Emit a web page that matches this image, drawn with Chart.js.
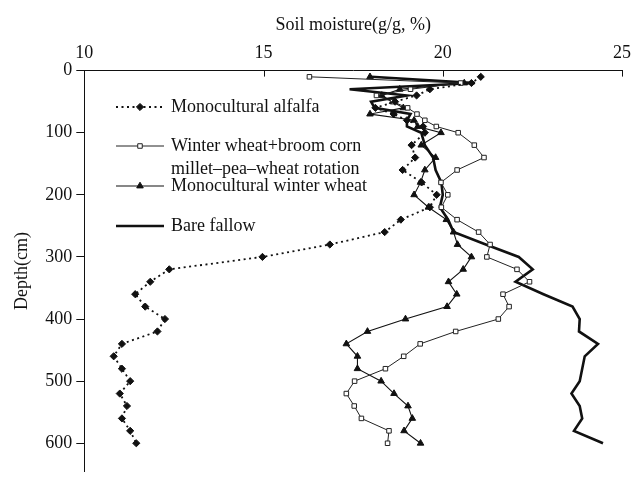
<!DOCTYPE html>
<html>
<head>
<meta charset="utf-8">
<script src="https://cdn.jsdelivr.net/npm/chart.js@4.4.0/dist/chart.umd.min.js"></script>
<style>
  html, body { margin: 0; padding: 0; background: #fff; }
  #wrap { width: 638px; height: 486px; }
</style>
</head>
<body>
<div id="wrap"><canvas id="soilChart" width="638" height="486"></canvas></div>
<script>
"use strict";

// sampling depth (cm)
var depths = [10, 20, 30, 40, 50, 60, 70, 80, 90, 100,
              120, 140, 160, 180, 200, 220, 240, 260, 280, 300,
              320, 340, 360, 380, 400, 420, 440, 460, 480, 500,
              520, 540, 560, 580, 600];

// soil moisture (g/g, %)
var alfalfa = [21.06, 20.8, 19.64, 19.27, 18.67, 18.12, 18.63, 19.0, 19.45, 19.5,
               19.13, 19.23, 18.88, 19.41, 19.83, 19.64, 18.83, 18.38, 16.85, 14.97,
               12.37, 11.84, 11.42, 11.70, 12.25, 12.04, 11.05, 10.82, 11.05, 11.28,
               10.99, 11.19, 11.05, 11.28, 11.45];
var rotation = [16.28, 20.5, 19.1, 18.15, 18.6, 19.02, 19.28, 19.5, 19.82, 20.43,
                20.88, 21.15, 20.40, 19.95, 20.14, 19.96, 20.40, 21.0, 21.32, 21.23,
                22.07, 22.42, 21.68, 21.85, 21.55, 20.36, 19.37, 18.91, 18.40, 17.54,
                17.31, 17.53, 17.73, 18.50, 18.46];
var winterWheat = [17.97, 20.6, 18.8, 18.3, 18.6, 18.9, 17.97, 19.2, 19.3, 19.95,
                   19.4, 19.8, 19.5, 19.38, 19.2, 19.6, 20.1, 20.3, 20.41, 20.80,
                   20.57, 20.16, 20.39, 20.12, 18.96, 17.90, 17.31, 17.62, 17.62, 18.28,
                   18.64, 19.03, 19.15, 18.92, 19.38];
var bareFallow = [18.0, 20.9, 17.4, 19.0, 18.0, 18.1, 19.1, 19.0, 19.0, 19.4,
                  19.5, 19.73, 19.8, 19.96, 20.0, 19.92, 20.15, 20.3, 21.2, 22.12,
                  22.51, 22.03, 22.81, 23.62, 23.82, 23.80, 24.33, 23.96, 23.89, 23.82,
                  23.59, 23.82, 23.89, 23.66, 24.47];

var seriesLabels = [
    ["Monocultural alfalfa"],
    ["Winter wheat+broom corn", "millet\u2013pea\u2013wheat rotation"],
    ["Monocultural winter wheat"],
    ["Bare fallow"]
];
var moistureTicks = [10, 15, 20, 25];
var depthTicks = [0, 100, 200, 300, 400, 500, 600];

function toPoints(values) {
    return values.map(function (v, i) { return { x: v, y: depths[i] }; });
}

var serif = '"Liberation Serif", "Times New Roman", serif';
Chart.defaults.font.family = serif;
Chart.defaults.font.size = 18;
Chart.defaults.color = "#111";

// short tick marks pointing into the plot on the top axis
var innerTicks = {
    id: "innerTicks",
    afterDraw: function (chart) {
        var ctx = chart.ctx, x = chart.scales.x, top = chart.chartArea.top;
        ctx.save();
        ctx.strokeStyle = "#111";
        ctx.lineWidth = 1;
        moistureTicks.slice(1).forEach(function (v) {
            var px = Math.round(x.getPixelForValue(v)) + 0.5;
            ctx.beginPath();
            ctx.moveTo(px, top);
            ctx.lineTo(px, top + 6);
            ctx.stroke();
        });
        ctx.restore();
    }
};

// legend drawn inside the plot, upper left
var insideLegend = {
    id: "insideLegend",
    afterDraw: function (chart, args, opts) {
        var ctx = chart.ctx;
        ctx.save();
        ctx.font = "18px " + serif;
        ctx.textBaseline = "middle";
        chart.data.datasets.forEach(function (ds, i) {
            var y = opts.rows[i];
            ctx.beginPath();
            ctx.strokeStyle = ds.borderColor;
            ctx.lineWidth = ds.borderWidth;
            ctx.setLineDash(ds.borderDash || []);
            ctx.moveTo(opts.x0, y);
            ctx.lineTo(opts.x1, y);
            ctx.stroke();
            ctx.setLineDash([]);
            if (ds.pointRadius > 0) {
                ctx.fillStyle = ds.pointBackgroundColor;
                ctx.strokeStyle = ds.pointBorderColor;
                ctx.lineWidth = ds.pointBorderWidth;
                Chart.helpers.drawPoint(ctx, {
                    pointStyle: ds.pointStyle, radius: ds.pointRadius,
                    borderWidth: ds.pointBorderWidth, rotation: 0
                }, (opts.x0 + opts.x1) / 2, y);
            }
            ctx.fillStyle = "#111";
            seriesLabels[i].forEach(function (line, k) {
                ctx.fillText(line, opts.textX, y + k * opts.lineGap);
            });
        });
        ctx.restore();
    }
};

var ctx = document.getElementById("soilChart");
var soilChart = new Chart(ctx, {
    type: "scatter",
    data: {
        datasets: [
            {
                label: seriesLabels[0].join(" "),
                data: toPoints(alfalfa),
                showLine: true,
                borderColor: "#111",
                borderWidth: 1.8,
                borderDash: [2, 3.5],
                pointStyle: "rectRot",
                pointRadius: 3.6,
                pointBackgroundColor: "#111",
                pointBorderColor: "#111",
                pointBorderWidth: 1
            },
            {
                label: seriesLabels[1].join(" "),
                data: toPoints(rotation),
                showLine: true,
                borderColor: "#222",
                borderWidth: 1,
                pointStyle: "rect",
                pointRadius: 3.2,
                pointBackgroundColor: "#fff",
                pointBorderColor: "#222",
                pointBorderWidth: 1
            },
            {
                label: seriesLabels[2].join(" "),
                data: toPoints(winterWheat),
                showLine: true,
                borderColor: "#111",
                borderWidth: 1.1,
                pointStyle: "triangle",
                pointRadius: 3.8,
                pointBackgroundColor: "#111",
                pointBorderColor: "#111",
                pointBorderWidth: 1
            },
            {
                label: seriesLabels[3].join(" "),
                data: toPoints(bareFallow),
                showLine: true,
                borderColor: "#111",
                borderWidth: 2.6,
                pointRadius: 0,
                pointHoverRadius: 0
            }
        ]
    },
    options: {
        responsive: false,
        animation: false,
        layout: { padding: { left: 0, right: 11, top: 0, bottom: 0 } },
        plugins: {
            legend: { display: false },
            tooltip: { enabled: false },
            insideLegend: { x0: 116, x1: 164, textX: 171, rows: [107, 146, 186, 226], lineGap: 23.5 }
        },
        scales: {
            x: {
                type: "linear",
                position: "top",
                min: 10,
                max: 25,
                afterBuildTicks: function (s) { s.ticks = moistureTicks.map(function (v) { return { value: v }; }); },
                afterFit: function (s) { s.height = 70.6; },
                ticks: { padding: 7, color: "#111", font: { size: 18 } },
                grid: { display: true, drawOnChartArea: false, drawTicks: false, color: "#111" },
                border: { display: true, color: "#111", width: 1 },
                title: {
                    display: true,
                    text: "Soil moisture(g/g, %)",
                    color: "#111",
                    font: { size: 18 },
                    padding: { top: 14, bottom: 0 }
                }
            },
            y: {
                type: "linear",
                reverse: true,
                min: 0,
                max: 645,
                afterBuildTicks: function (s) { s.ticks = depthTicks.map(function (v) { return { value: v }; }); },
                afterFit: function (s) { s.width = 84.3; },
                ticks: { padding: 4, color: "#111", font: { size: 18 } },
                grid: { display: true, drawOnChartArea: false, drawTicks: true, tickLength: 8, color: "#111" },
                border: { display: true, color: "#111", width: 1 },
                title: {
                    display: true,
                    text: "Depth(cm)",
                    color: "#111",
                    font: { size: 18 },
                    padding: { top: 11, bottom: 0 }
                }
            }
        }
    },
    plugins: [innerTicks, insideLegend]
});
</script>
</body>
</html>
